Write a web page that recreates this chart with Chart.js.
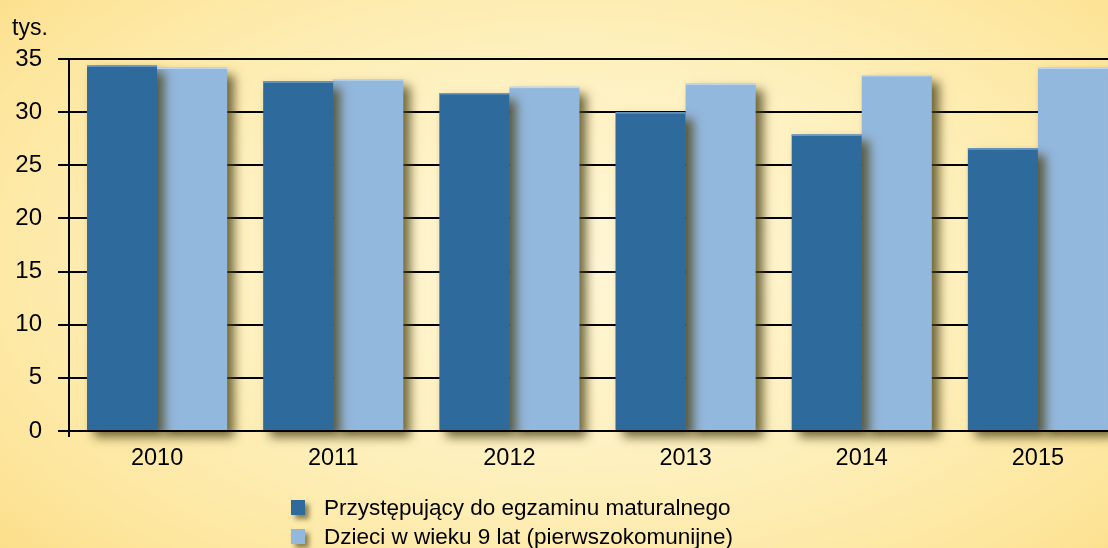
<!DOCTYPE html>
<html>
<head>
<meta charset="utf-8">
<script src="https://cdn.jsdelivr.net/npm/chart.js@4.4.1/dist/chart.umd.min.js"></script>
<style>
html,body{margin:0;padding:0;width:1108px;height:548px;overflow:hidden;}
body{background:radial-gradient(ellipse 70% 80% at 52% 48%, #fff6d6 0%, #fef1c0 45%, #fde7a0 80%, #fcde8a 100%);font-family:"Liberation Sans",Arial,sans-serif;position:relative;}
#wrap{position:absolute;left:0;top:0;width:1130px;height:548px;}
#unit{position:absolute;left:12px;top:14px;font-size:23px;color:#000;}
#legend{position:absolute;left:291px;top:493px;font-size:22.5px;color:#000;}
.li{display:flex;align-items:center;height:29px;}
.sw{width:14px;height:15px;margin-right:19px;box-shadow:4px 4px 5px rgba(80,70,25,0.65);}
</style>
</head>
<body>
<div id="wrap"><canvas id="c"></canvas></div>
<div id="unit">tys.</div>
<div id="legend"></div>
<script>
const categories = ["2010","2011","2012","2013","2014","2015"];
const seriesNames = ["Przystępujący do egzaminu maturalnego","Dzieci w wieku 9 lat (pierwszokomunijne)"];
const maturaValues = [34.4, 32.9, 31.8, 30.0, 27.9, 26.6];
const childrenValues = [34.2, 33.1, 32.4, 32.7, 33.5, 34.2];
const yTicks = [0,5,10,15,20,25,30,35];
const colors = ["#2e6a9b","#93b8de"];
const topEdge = ["#6a9ac8","#c0d8ee"];

const legend = document.getElementById('legend');
seriesNames.forEach((n,i)=>{
  const d=document.createElement('div');d.className='li';
  const s=document.createElement('span');s.className='sw';s.style.background=colors[i];
  const t=document.createElement('span');t.textContent=n;
  d.appendChild(s);d.appendChild(t);legend.appendChild(d);
});

const shadowPlugin = {
  id:'shadow',
  beforeDatasetDraw(chart){
    const ctx=chart.ctx;ctx.save();
    ctx.shadowColor='rgba(75,65,20,0.8)';ctx.shadowBlur=10;ctx.shadowOffsetX=7;ctx.shadowOffsetY=7;
  },
  afterDatasetDraw(chart){
    chart.ctx.restore();
  },
  afterDatasetsDraw(chart){
    const ctx=chart.ctx, a=chart.chartArea;
    ctx.save();
    chart.data.datasets.forEach((ds,i)=>{
      chart.getDatasetMeta(i).data.forEach(el=>{
        ctx.fillStyle=topEdge[i];
        ctx.fillRect(el.x-el.width/2, el.y, el.width, 1.5);
      });
    });
    ctx.strokeStyle='#000';ctx.lineWidth=2;
    ctx.beginPath();ctx.moveTo(a.left,a.bottom);ctx.lineTo(a.right,a.bottom);
    ctx.moveTo(a.left,a.bottom);ctx.lineTo(a.left,a.bottom+6);ctx.stroke();ctx.restore();
  }
};

new Chart(document.getElementById('c'),{
  type:'bar',
  data:{labels:categories,datasets:[
    {label:seriesNames[0],data:maturaValues,backgroundColor:colors[0],borderWidth:0,order:0,clip:false},
    {label:seriesNames[1],data:childrenValues,backgroundColor:colors[1],borderWidth:0,order:1,clip:false}
  ]},
  options:{
    responsive:true,maintainAspectRatio:false,animation:false,
    layout:{padding:{top:59,right:4,bottom:0,left:0}},
    datasets:{bar:{categoryPercentage:140/176,barPercentage:1}},
    plugins:{legend:{display:false},tooltip:{enabled:false}},
    scales:{
      x:{
        grid:{display:false,drawTicks:false},
        border:{display:true,color:'#000',width:2},
        ticks:{color:'#000',padding:13,font:{family:'"Liberation Sans", Arial, sans-serif',size:23.5}},
        afterFit(s){s.height=117;}
      },
      y:{
        min:0,max:35,
        afterBuildTicks(s){s.ticks=yTicks.map(v=>({value:v}));},
        grid:{color:'#000',lineWidth:2,tickLength:11,drawTicks:true},
        border:{display:true,color:'#000',width:2},
        ticks:{color:'#000',padding:16,font:{family:'"Liberation Sans", Arial, sans-serif',size:24}},
        afterFit(s){s.width=69;}
      }
    }
  },
  plugins:[shadowPlugin]
});
</script>
</body>
</html>
